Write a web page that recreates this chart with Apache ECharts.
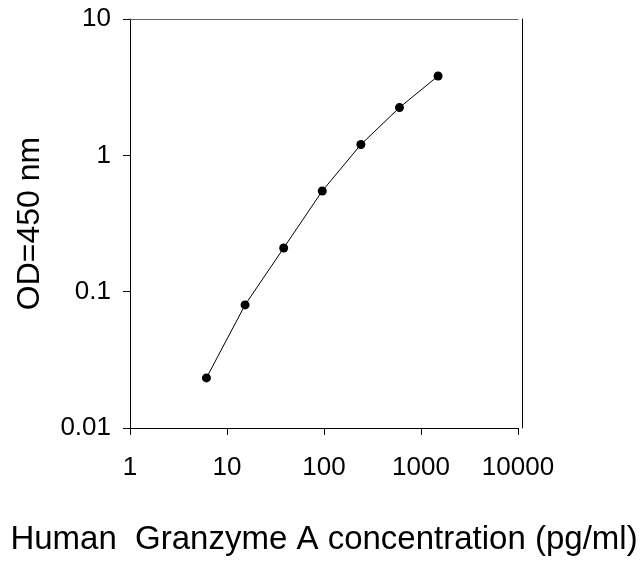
<!DOCTYPE html>
<html>
<head>
<meta charset="utf-8">
<script src="https://cdn.jsdelivr.net/npm/echarts@6/dist/echarts.min.js"></script>
<style>html,body{margin:0;padding:0;background:#fff;}#c{width:644px;height:561px;}</style>
</head>
<body>
<div id="c"></div>
<script>
var concentrations = [6.14, 15.36, 38.4, 96, 240, 600, 1500];
var odValues = [0.0233, 0.080, 0.209, 0.548, 1.20, 2.24, 3.82];
var xTickLabels = ['1', '10', '100', '1000', '10000'];
var yTickLabels = ['0.01', '0.1', '1', '10'];
var xTitle = 'Human  Granzyme A concentration (pg/ml)';
var yTitle = 'OD=450 nm';

var FONT = 'Arial, "Liberation Sans", sans-serif';
function labelFrom(arr, minExp) {
  return function (v) {
    var i = Math.round(Math.log10(v)) - minExp;
    return arr[i] !== undefined ? arr[i] : '';
  };
}
var chart = echarts.init(document.getElementById('c'), null, {renderer: 'canvas'});
chart.setOption({
  animation: false,
  backgroundColor: '#fff',
  grid: {left: 130, right: 126, top: 19, bottom: 128, containLabel: false},
  xAxis: [{
    type: 'log', logBase: 10, min: 1, max: 10000,
    name: xTitle, nameLocation: 'middle', nameGap: 95,
    nameTextStyle: {fontFamily: FONT, fontSize: 33, color: '#000'},
    axisLine: {show: true, onZero: false, lineStyle: {color: '#000', width: 1}},
    axisTick: {show: true, inside: false, length: 7, lineStyle: {color: '#000'}},
    minorTick: {show: false},
    splitLine: {show: false},
    axisLabel: {margin: 27, fontFamily: FONT, fontSize: 26, color: '#000', formatter: labelFrom(xTickLabels, 0)}
  }, {
    type: 'log', logBase: 10, min: 1, max: 10000, position: 'top',
    axisLine: {show: true, onZero: false, lineStyle: {color: '#666', width: 1}},
    axisTick: {show: false}, axisLabel: {show: false}, splitLine: {show: false}
  }],
  yAxis: [{
    type: 'log', logBase: 10, min: 0.01, max: 10,
    name: yTitle, nameLocation: 'middle', nameGap: 84, nameRotate: 90,
    nameTextStyle: {fontFamily: FONT, fontSize: 32, color: '#000'},
    axisLine: {show: true, onZero: false, lineStyle: {color: '#000', width: 1}},
    axisTick: {show: true, inside: false, length: 7, lineStyle: {color: '#000'}},
    minorTick: {show: false},
    splitLine: {show: false},
    axisLabel: {margin: 19, fontFamily: FONT, fontSize: 26, color: '#000', formatter: labelFrom(yTickLabels, -2)}
  }, {
    type: 'log', logBase: 10, min: 0.01, max: 10, position: 'right', offset: 4.5,
    axisLine: {show: true, onZero: false, lineStyle: {color: '#000', width: 1}},
    axisTick: {show: false}, axisLabel: {show: false}, splitLine: {show: false}
  }],
  series: [{
    type: 'line',
    xAxisIndex: 0, yAxisIndex: 0,
    data: concentrations.map(function (c, i) { return [c, odValues[i]]; }),
    symbol: 'circle', symbolSize: 9,
    itemStyle: {color: '#000'},
    lineStyle: {color: '#000', width: 1}
  }]
});
</script>
</body>
</html>
